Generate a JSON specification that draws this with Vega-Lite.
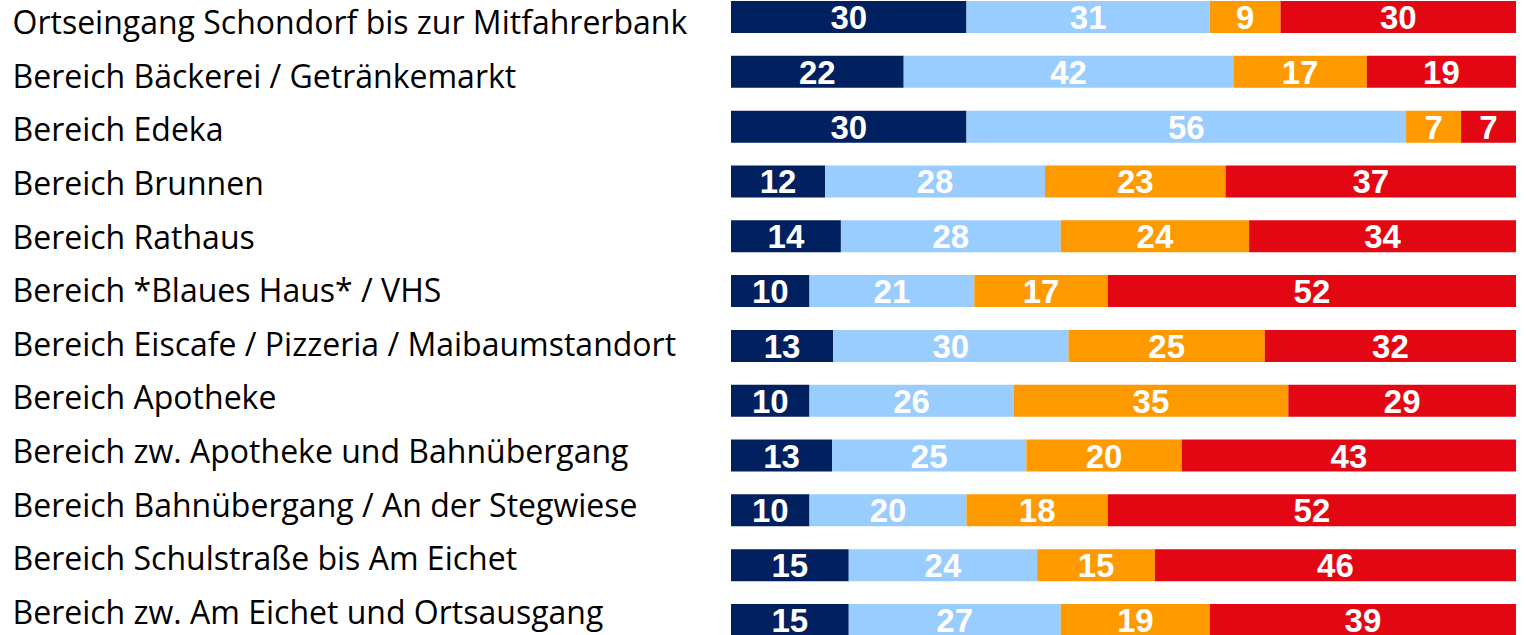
{
  "$schema": "https://vega.github.io/schema/vega-lite/v6.json",
  "width": 785,
  "height": 635,
  "autosize": {"type": "none"},
  "padding": {"left": 731, "top": 1, "right": 10, "bottom": 0},
  "background": "white",
  "config": {"view": {"stroke": null}},
  "data": {"values": [
    {"row": "Ortseingang Schondorf bis zur Mitfahrerbank", "k": 1, "v": 30},
    {"row": "Ortseingang Schondorf bis zur Mitfahrerbank", "k": 2, "v": 31},
    {"row": "Ortseingang Schondorf bis zur Mitfahrerbank", "k": 3, "v": 9},
    {"row": "Ortseingang Schondorf bis zur Mitfahrerbank", "k": 4, "v": 30},
    {"row": "Bereich Bäckerei / Getränkemarkt", "k": 1, "v": 22},
    {"row": "Bereich Bäckerei / Getränkemarkt", "k": 2, "v": 42},
    {"row": "Bereich Bäckerei / Getränkemarkt", "k": 3, "v": 17},
    {"row": "Bereich Bäckerei / Getränkemarkt", "k": 4, "v": 19},
    {"row": "Bereich Edeka", "k": 1, "v": 30},
    {"row": "Bereich Edeka", "k": 2, "v": 56},
    {"row": "Bereich Edeka", "k": 3, "v": 7},
    {"row": "Bereich Edeka", "k": 4, "v": 7},
    {"row": "Bereich Brunnen", "k": 1, "v": 12},
    {"row": "Bereich Brunnen", "k": 2, "v": 28},
    {"row": "Bereich Brunnen", "k": 3, "v": 23},
    {"row": "Bereich Brunnen", "k": 4, "v": 37},
    {"row": "Bereich Rathaus", "k": 1, "v": 14},
    {"row": "Bereich Rathaus", "k": 2, "v": 28},
    {"row": "Bereich Rathaus", "k": 3, "v": 24},
    {"row": "Bereich Rathaus", "k": 4, "v": 34},
    {"row": "Bereich *Blaues Haus* / VHS", "k": 1, "v": 10},
    {"row": "Bereich *Blaues Haus* / VHS", "k": 2, "v": 21},
    {"row": "Bereich *Blaues Haus* / VHS", "k": 3, "v": 17},
    {"row": "Bereich *Blaues Haus* / VHS", "k": 4, "v": 52},
    {"row": "Bereich Eiscafe / Pizzeria / Maibaumstandort", "k": 1, "v": 13},
    {"row": "Bereich Eiscafe / Pizzeria / Maibaumstandort", "k": 2, "v": 30},
    {"row": "Bereich Eiscafe / Pizzeria / Maibaumstandort", "k": 3, "v": 25},
    {"row": "Bereich Eiscafe / Pizzeria / Maibaumstandort", "k": 4, "v": 32},
    {"row": "Bereich Apotheke", "k": 1, "v": 10},
    {"row": "Bereich Apotheke", "k": 2, "v": 26},
    {"row": "Bereich Apotheke", "k": 3, "v": 35},
    {"row": "Bereich Apotheke", "k": 4, "v": 29},
    {"row": "Bereich zw. Apotheke und Bahnübergang", "k": 1, "v": 13},
    {"row": "Bereich zw. Apotheke und Bahnübergang", "k": 2, "v": 25},
    {"row": "Bereich zw. Apotheke und Bahnübergang", "k": 3, "v": 20},
    {"row": "Bereich zw. Apotheke und Bahnübergang", "k": 4, "v": 43},
    {"row": "Bereich Bahnübergang / An der Stegwiese", "k": 1, "v": 10},
    {"row": "Bereich Bahnübergang / An der Stegwiese", "k": 2, "v": 20},
    {"row": "Bereich Bahnübergang / An der Stegwiese", "k": 3, "v": 18},
    {"row": "Bereich Bahnübergang / An der Stegwiese", "k": 4, "v": 52},
    {"row": "Bereich Schulstraße bis Am Eichet", "k": 1, "v": 15},
    {"row": "Bereich Schulstraße bis Am Eichet", "k": 2, "v": 24},
    {"row": "Bereich Schulstraße bis Am Eichet", "k": 3, "v": 15},
    {"row": "Bereich Schulstraße bis Am Eichet", "k": 4, "v": 46},
    {"row": "Bereich zw. Am Eichet und Ortsausgang", "k": 1, "v": 15},
    {"row": "Bereich zw. Am Eichet und Ortsausgang", "k": 2, "v": 27},
    {"row": "Bereich zw. Am Eichet und Ortsausgang", "k": 3, "v": 19},
    {"row": "Bereich zw. Am Eichet und Ortsausgang", "k": 4, "v": 39}
  ]},
  "transform": [
    {"stack": "v", "groupby": ["row"], "sort": [{"field": "k", "order": "ascending"}], "offset": "normalize", "as": ["x0", "x1"]},
    {"calculate": "(datum.x0 + datum.x1) / 2", "as": "mid"}
  ],
  "resolve": {"scale": {"y": "independent"}},
  "layer": [
    {
      "mark": {"type": "bar"},
      "encoding": {
        "y": {"field": "row", "type": "nominal", "sort": null, "scale": {"type": "band", "paddingInner": 0.416, "paddingOuter": 0}, "axis": null},
        "x": {"field": "x0", "type": "quantitative", "scale": {"domain": [0, 1], "nice": false}, "axis": null},
        "x2": {"field": "x1"},
        "color": {
          "field": "k", "type": "nominal",
          "scale": {"domain": [1, 2, 3, 4], "range": ["#002060", "#99CCFF", "#FF9900", "#E30613"]},
          "legend": null
        }
      }
    },
    {
      "mark": {"type": "text", "font": "Liberation Sans", "fontWeight": "bold", "fontSize": 33, "color": "white", "baseline": "middle", "dy": 2},
      "encoding": {
        "y": {"field": "row", "type": "nominal", "sort": null, "scale": {"type": "band", "paddingInner": 0.416, "paddingOuter": 0}, "axis": null},
        "x": {"field": "mid", "type": "quantitative", "scale": {"domain": [0, 1], "nice": false}, "axis": null},
        "text": {"field": "v", "type": "quantitative"}
      }
    },
    {
      "mark": {"type": "text", "opacity": 0},
      "encoding": {
        "y": {
          "field": "row", "type": "nominal", "sort": null,
          "scale": {"type": "point", "padding": 0, "range": [32.5, 622.5]},
          "axis": {
            "title": null, "ticks": false, "domain": false, "orient": "left",
            "labelAlign": "left", "labelPadding": 719, "labelLimit": 0,
            "labelFont": "Open Sans", "labelFontSize": 32, "labelColor": "#000000",
            "labelBaseline": "alphabetic", "labelOffset": 0
          }
        },
        "text": {"value": ""}
      }
    }
  ]
}
